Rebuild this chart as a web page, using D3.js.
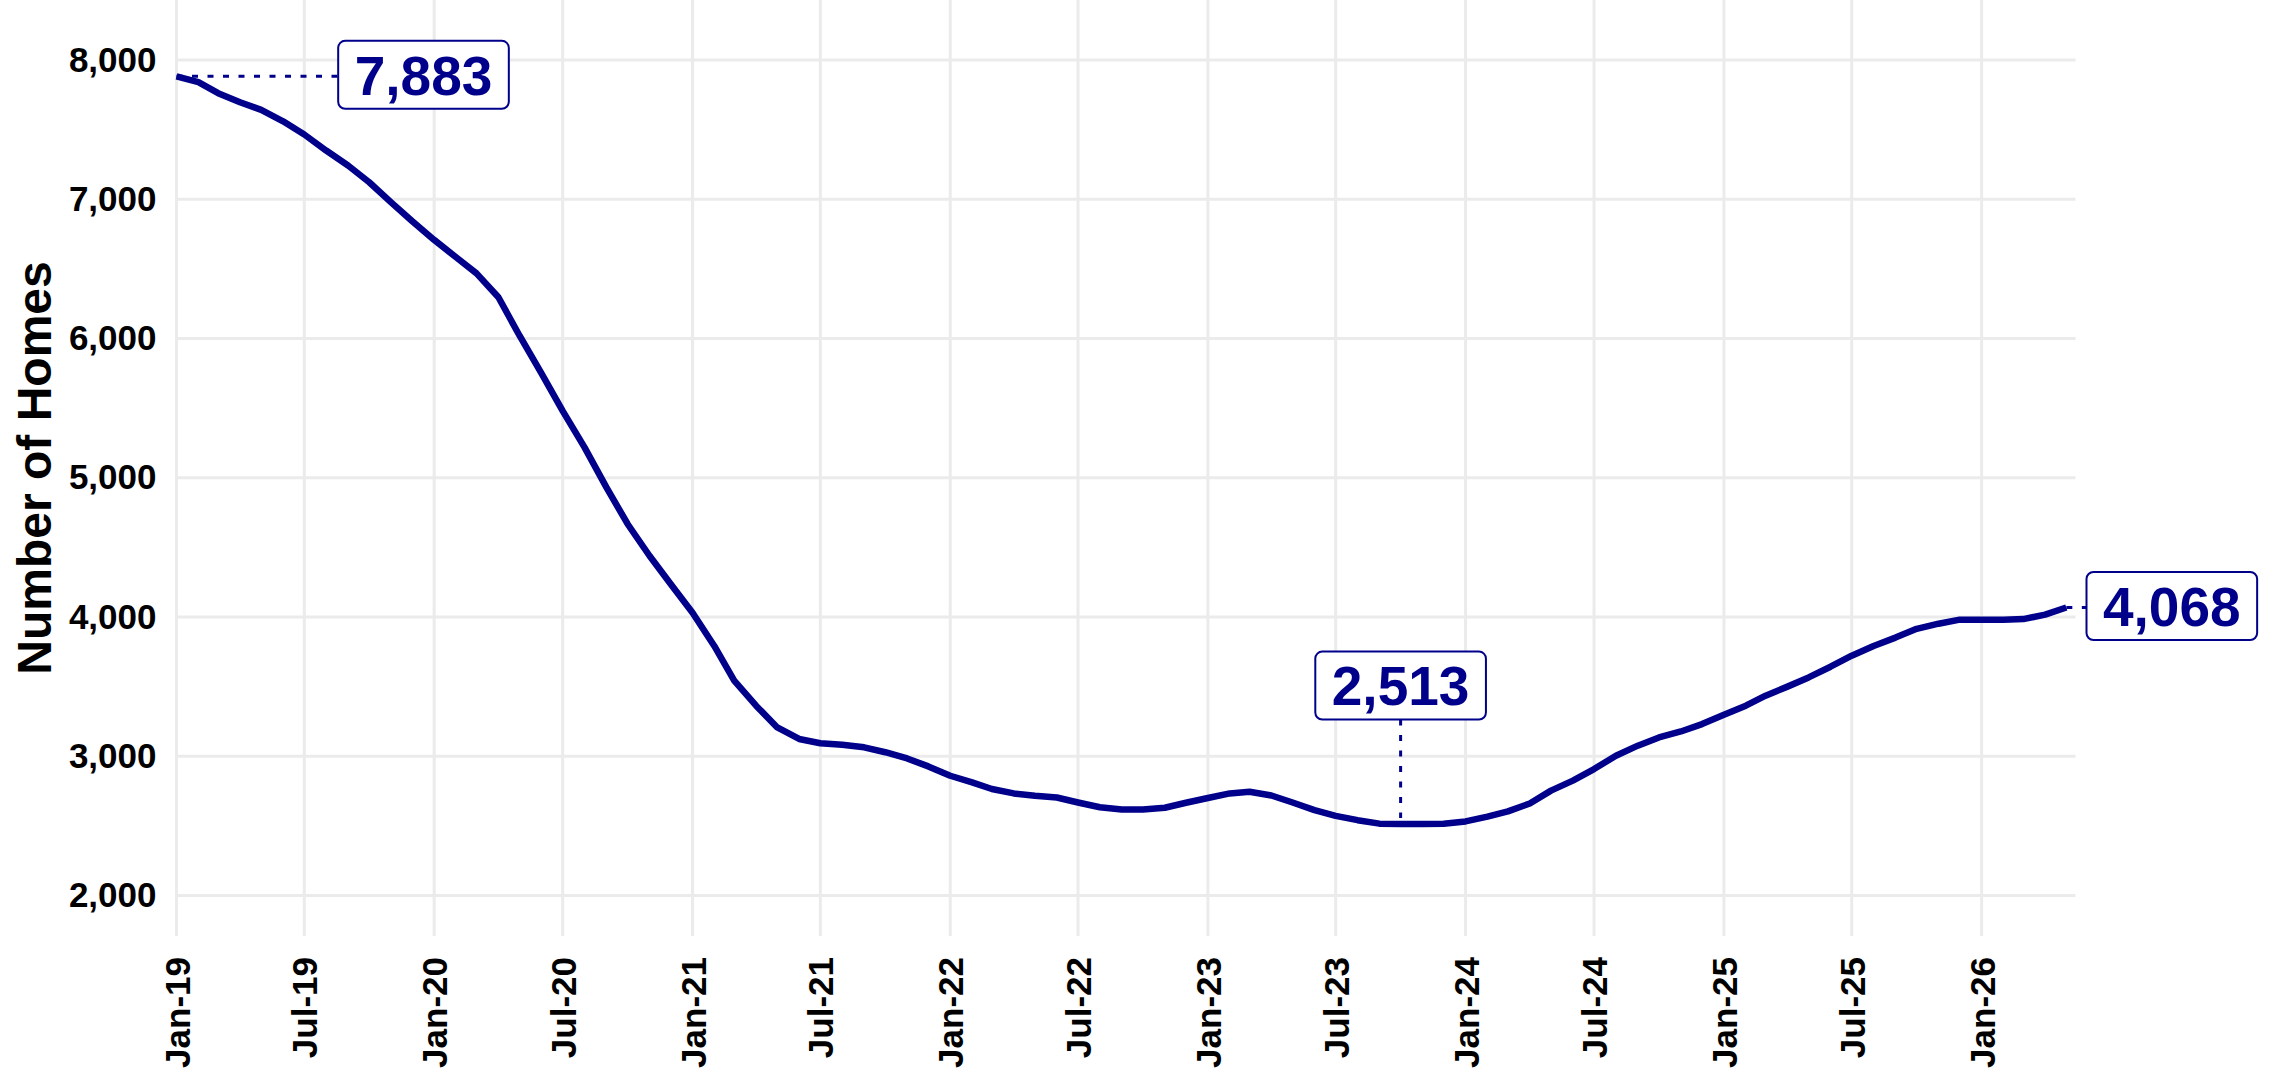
<!DOCTYPE html>
<html>
<head>
<meta charset="utf-8">
<script src="https://cdn.jsdelivr.net/npm/d3@7"></script>
<style>
  html, body { margin: 0; padding: 0; background: #fff; }
  svg { display: block; font-family: "Liberation Sans", Arial, sans-serif; }
</style>
</head>
<body>
<svg id="chart" width="2278" height="1071"></svg>
<script>
// Monthly count of homes, Jan 2019 – May 2026
const months = [
  "2019-01","2019-02","2019-03","2019-04","2019-05","2019-06","2019-07","2019-08","2019-09","2019-10","2019-11","2019-12",
  "2020-01","2020-02","2020-03","2020-04","2020-05","2020-06","2020-07","2020-08","2020-09","2020-10","2020-11","2020-12",
  "2021-01","2021-02","2021-03","2021-04","2021-05","2021-06","2021-07","2021-08","2021-09","2021-10","2021-11","2021-12",
  "2022-01","2022-02","2022-03","2022-04","2022-05","2022-06","2022-07","2022-08","2022-09","2022-10","2022-11","2022-12",
  "2023-01","2023-02","2023-03","2023-04","2023-05","2023-06","2023-07","2023-08","2023-09","2023-10","2023-11","2023-12",
  "2024-01","2024-02","2024-03","2024-04","2024-05","2024-06","2024-07","2024-08","2024-09","2024-10","2024-11","2024-12",
  "2025-01","2025-02","2025-03","2025-04","2025-05","2025-06","2025-07","2025-08","2025-09","2025-10","2025-11","2025-12",
  "2026-01","2026-02","2026-03","2026-04","2026-05"
];
const homes = [
  7883, 7841, 7762, 7697, 7642, 7560, 7465, 7350, 7242, 7122, 6978, 6842,
  6708, 6583, 6468, 6296, 6020, 5750, 5480, 5218, 4931, 4668, 4440, 4237,
  4030, 3790, 3543, 3363, 3207, 3124, 3093, 3083, 3064, 3029, 2984, 2927,
  2860, 2812, 2765, 2733, 2716, 2704, 2668, 2634, 2618, 2618, 2630, 2666,
  2700, 2733, 2745, 2718, 2668, 2613, 2572, 2541, 2516, 2513, 2514, 2516,
  2532, 2566, 2604, 2661, 2753, 2825, 2908, 3004, 3076, 3135, 3178, 3231,
  3298, 3363, 3435, 3500, 3566, 3643, 3722, 3792, 3852, 3915, 3952, 3981,
  3981, 3981, 3985, 4017, 4068
];
const yTicks = [2000, 3000, 4000, 5000, 6000, 7000, 8000];
const xTickMonths = ["2019-01","2019-07","2020-01","2020-07","2021-01","2021-07","2022-01","2022-07",
                     "2023-01","2023-07","2024-01","2024-07","2025-01","2025-07","2026-01"];
const yTitle = "Number of Homes";

const parseMonth = d3.timeParse("%Y-%m");
const data = months.map((m, i) => ({ date: parseMonth(m), value: homes[i] }));

const svg = d3.select("#chart");
const navy = "#00008B";
const grid = "#EBEBEB";

// panel geometry
const panel = { left: 176.5, right: 2075.5, top: 0, bottom: 936 };

const x = d3.scaleTime()
  .domain([parseMonth("2019-01"), new Date(2026, 4, 14)])
  .range([panel.left, panel.right]);
const y = d3.scaleLinear()
  .domain([2000, 8000])
  .range([895.5, 60]);

// gridlines
const gGrid = svg.append("g");
gGrid.selectAll("line.h").data(yTicks).join("line")
  .attr("x1", panel.left).attr("x2", panel.right)
  .attr("y1", d => y(d)).attr("y2", d => y(d))
  .attr("stroke", grid).attr("stroke-width", 3);
const xTicks = xTickMonths.map(parseMonth);
gGrid.selectAll("line.v").data(xTicks).join("line")
  .attr("x1", d => x(d)).attr("x2", d => x(d))
  .attr("y1", panel.top).attr("y2", panel.bottom)
  .attr("stroke", grid).attr("stroke-width", 3);

// y axis
const yAxis = d3.axisLeft(y).tickValues(yTicks).tickFormat(d3.format(",")).tickSize(0).tickPadding(20);
const gy = svg.append("g").attr("transform", `translate(${panel.left},0)`).call(yAxis);
gy.select(".domain").remove();
gy.selectAll("text")
  .attr("font-family", "Liberation Sans, Arial, sans-serif")
  .attr("font-size", 35).attr("font-weight", "bold").attr("fill", "#000");

// x axis, labels rotated
const fmtX = d3.timeFormat("%b-%y");
const xAxis = d3.axisBottom(x).tickValues(xTicks).tickFormat(fmtX).tickSize(0).tickPadding(0);
const gx = svg.append("g").attr("transform", `translate(0,${panel.bottom})`).call(xAxis);
gx.select(".domain").remove();
gx.selectAll("text")
  .attr("font-family", "Liberation Sans, Arial, sans-serif")
  .attr("font-size", 35).attr("font-weight", "bold").attr("fill", "#000")
  .attr("text-anchor", "end")
  .attr("transform", "translate(0,21) rotate(-90)")
  .attr("x", 0).attr("y", 0).attr("dy", "0.36em");

// y title
svg.append("text")
  .attr("transform", `translate(51,468) rotate(-90)`)
  .attr("text-anchor", "middle")
  .attr("font-size", 48).attr("font-weight", "bold").attr("fill", "#000")
  .text(yTitle);

// series line
const line = d3.line().x(d => x(d.date)).y(d => y(d.value));
svg.append("path").datum(data)
  .attr("d", line)
  .attr("fill", "none").attr("stroke", navy).attr("stroke-width", 6.5)
  .attr("stroke-linejoin", "round").attr("stroke-linecap", "butt");

// annotation labels: first, minimum, last
const fmt = d3.format(",");
const first = data[0];
const last = data[data.length - 1];
const minPt = data[d3.minIndex(data, d => d.value)];

const gAnn = svg.append("g");
function labelBox(cx, cy, text) {
  const g = gAnn.append("g");
  const t = g.append("text")
    .attr("x", cx).attr("y", cy).attr("dy", "0.36em")
    .attr("text-anchor", "middle")
    .attr("font-size", 55).attr("font-weight", "bold").attr("fill", navy)
    .text(text);
  const bb = t.node().getBBox();
  const w = bb.width + 33, h = 68;
  g.insert("rect", "text")
    .attr("x", cx - w / 2).attr("y", cy - h / 2)
    .attr("width", w).attr("height", h)
    .attr("rx", 7).attr("ry", 7)
    .attr("fill", "#fff").attr("stroke", navy).attr("stroke-width", 2);
  return { w, h };
}
const dots = { stroke: navy, width: 3, dash: "6,9.5" };
function dotted(x1, y1, x2, y2) {
  gAnn.append("line")
    .attr("x1", x1).attr("y1", y1).attr("x2", x2).attr("y2", y2)
    .attr("stroke", dots.stroke).attr("stroke-width", dots.width)
    .attr("stroke-dasharray", dots.dash);
}

// first point: label to the right
{
  const px = x(first.date), py = y(first.value);
  const boxLeft = px + 161.5, boxW = 171;
  dotted(px, py, boxLeft, py);
  labelBox(boxLeft + boxW / 2, py - 1.5, fmt(first.value));
}
// minimum: label above
{
  const px = x(minPt.date), py = y(minPt.value);
  const cy = py - 138.5;
  dotted(px, cy + 34, px, py - 6);
  labelBox(px, cy, fmt(minPt.value));
}
// last point: label to the right
{
  const px = x(last.date), py = y(last.value);
  const boxLeft = px + 20, boxW = 171;
  dotted(px, py, boxLeft, py);
  labelBox(boxLeft + boxW / 2, py - 1.5, fmt(last.value));
}
</script>
</body>
</html>
